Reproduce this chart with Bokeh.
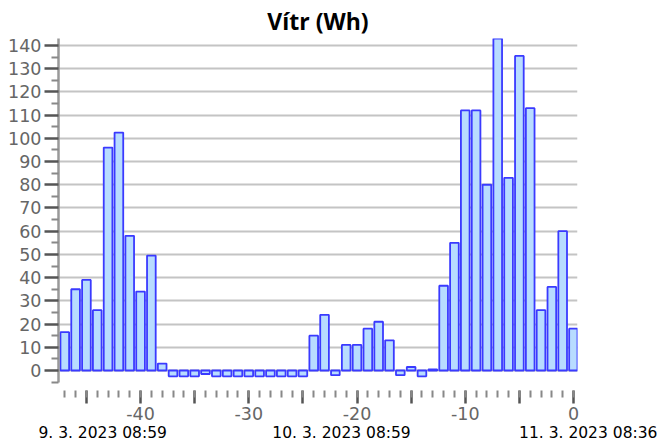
from bokeh.plotting import figure
from bokeh.models import FixedTicker, Range1d, LinearAxis
from bokeh.embed import file_html
from bokeh.resources import INLINE

# data
hours = list(range(-47, 1))
values = [16.5, 35, 39, 26, 96, 102.5, 58, 34, 49.5, 3,
          -2.5, -2.5, -2.5, -1.5, -2.5, -2.5, -2.5, -2.5, -2.5, -2.5, -2.5, -2.5, -2.5,
          15, 24, -2, 11, 11, 18, 21, 13, -2, 1.5, -2.5, 0.5,
          36.5, 55, 112, 112, 80, 143.5, 83, 135.5, 113, 26, 36, 60, 18]
y_ticks = [0, 10, 20, 30, 40, 50, 60, 70, 80, 90, 100, 110, 120, 130, 140]
y_minor = [-5, 5, 15, 25, 35, 45, 55, 65, 75, 85, 95, 105, 115, 125, 135]
x_ticks = [-45, -40, -35, -30, -25, -20, -15, -10, -5, 0]
x_minor = list(range(-47, 1))
date_labels = ["9. 3. 2023 08:59", "10. 3. 2023 08:59", "11. 3. 2023 08:36"]
date_pos = [-43.5, -21.43, 0]
date_pad = [0, 0, 6]

p = figure(frame_width=519, frame_height=344,
           min_border_left=58, min_border_right=87, min_border_top=37, min_border_bottom=0,
           x_range=Range1d(-47.58, 0.37), y_range=Range1d(-5.17, 143.0),
           output_backend="svg", toolbar_location=None,
           title="Vítr (Wh)")
p.title.align = "center"
p.title.text_font = "Open Sans"
p.title.text_font_style = "bold"
p.title.text_font_size = "23px"
p.title.text_color = "#000000"
p.title.standoff = 4
p.outline_line_color = None

p.vbar(x=hours, top=values, bottom=0, width=0.8,
       fill_color="#b8dcff", line_color="#3a3aff", line_width=1.8)

# y axis
ya = p.yaxis[0]
ya.ticker = FixedTicker(ticks=y_ticks, minor_ticks=y_minor)
ya.axis_line_color = "#999999"
ya.axis_line_width = 2.5
ya.major_tick_in = 0
ya.major_tick_out = 14
ya.major_tick_line_color = "#555555"
ya.major_tick_line_width = 2.5
ya.minor_tick_in = 0
ya.minor_tick_out = 7
ya.minor_tick_line_color = "#888888"
ya.minor_tick_line_width = 2
ya.major_label_text_font = "DejaVu Sans"
ya.major_label_text_font_size = "17.5px"
ya.major_label_text_color = "#666666"
ya.major_label_standoff = 3

# x axis
xa = p.xaxis[0]
xa.ticker = FixedTicker(ticks=x_ticks, minor_ticks=x_minor)
xa.axis_line_color = None
xa.major_tick_in = -8
xa.major_tick_out = 21
xa.major_tick_line_color = "#555555"
xa.major_tick_line_width = 2.5
xa.minor_tick_in = -8
xa.minor_tick_out = 15
xa.minor_tick_line_color = "#888888"
xa.minor_tick_line_width = 2
xa.major_label_text_font = "DejaVu Sans"
xa.major_label_text_font_size = "17.5px"
xa.major_label_text_color = "#666666"
xa.major_label_standoff = 3
xa.major_label_overrides = {t: ("" if t % 10 else str(t)) for t in x_ticks}

# date labels as a second, tick-less axis under the first
da = LinearAxis(ticker=FixedTicker(ticks=date_pos, minor_ticks=[]))
da.major_label_overrides = {pos: "\u00a0" * pad + txt for pos, pad, txt in zip(date_pos, date_pad, date_labels)}
da.axis_line_color = None
da.major_tick_line_color = None
da.major_tick_in = 0
da.major_tick_out = 0
da.minor_tick_line_color = None
da.major_label_standoff = 1
da.major_label_text_font = "DejaVu Sans"
da.major_label_text_font_size = "15.5px"
da.major_label_text_color = "#000000"
p.add_layout(da, "below")

p.xgrid.grid_line_color = None
p.ygrid.ticker = FixedTicker(ticks=y_ticks)
p.ygrid.grid_line_color = "#c4c4c4"
p.ygrid.grid_line_width = 2

open("out.html", "w").write(file_html(p, INLINE))
